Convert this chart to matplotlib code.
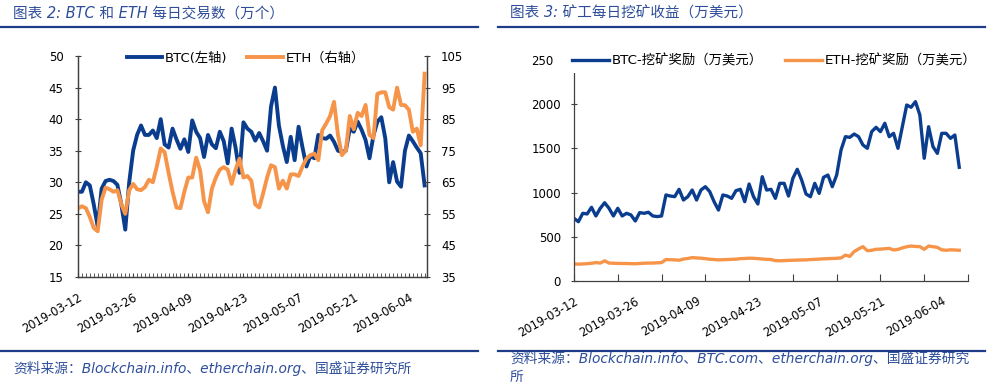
import numpy as np
import pandas as pd
import matplotlib
matplotlib.use('Agg')
import matplotlib.pyplot as plt
from matplotlib.lines import Line2D
from matplotlib.patches import Rectangle

plt.rcParams['font.family'] = ['DejaVu Sans', 'Noto Sans CJK SC']

# ---- data ----
dates = pd.date_range('2019-03-12', periods=89, freq='D')
date_labels = [d.strftime('%Y-%m-%d') for d in dates]

# daily transactions, 10k (left chart)
btc_tx = [28.5, 28.5, 30.0, 29.5, 26.5, 23.0, 29.0, 30.2, 30.4, 30.2,
          29.6, 26.5, 22.5, 30.0, 35.0, 37.5, 39.0, 37.5, 37.5, 38.2,
          37.0, 40.0, 36.0, 35.5, 38.5, 36.8, 35.3, 36.8, 34.8, 39.8,
          38.0, 37.0, 34.0, 37.5, 36.0, 35.4, 38.0, 36.5, 33.0, 38.5,
          35.5, 31.5, 39.5, 38.5, 38.0, 36.6, 37.8, 36.5, 35.0, 42.0,
          45.0, 39.0, 35.8, 33.2, 37.2, 33.5, 38.8, 35.5, 32.5, 34.2,
          33.8, 37.5, 37.0, 36.9, 37.4, 36.4, 35.0, 34.8, 35.0, 38.5,
          38.0, 39.6, 38.3, 36.7, 33.8, 37.4, 39.6, 40.3, 37.0, 30.0,
          33.2, 30.1, 29.3, 35.0, 37.4, 36.5, 35.5, 34.6, 29.5]
eth_tx = [56.7, 57.4, 56.8, 54.0, 50.5, 49.5, 59.5, 63.3, 62.8, 62.0,
          62.5, 58.0, 55.0, 62.5, 64.5, 62.8, 62.5, 63.5, 65.8, 65.0,
          70.0, 75.7, 74.5, 68.0, 62.0, 57.0, 56.8, 62.0, 66.5, 66.5,
          72.8, 68.8, 59.0, 55.5, 63.0, 66.5, 69.0, 69.8, 69.0, 64.5,
          69.0, 72.5, 66.5, 67.0, 65.5, 58.0, 57.0, 61.5, 66.5, 70.4,
          69.8, 63.0, 65.5, 63.0, 67.5, 67.5, 67.0, 70.0, 72.5, 73.6,
          74.1, 72.0, 81.5, 83.6, 86.0, 90.5, 80.0, 73.6, 75.1, 86.0,
          81.8, 87.0, 86.0, 89.5, 80.0, 79.0, 93.0, 93.5, 93.5, 88.8,
          88.0, 95.0, 89.5, 89.4, 88.0, 81.0, 82.0, 76.7, 99.4]

# daily mining reward, 10k USD (right chart)
btc_reward = [707, 669, 764, 757, 832, 734, 821, 884, 821, 734,
              821, 734, 764, 746, 677, 772, 764, 776, 734, 727,
              734, 972, 960, 953, 1036, 915, 953, 1028, 915, 1028,
              1066, 1010, 896, 801, 972, 960, 934, 1021, 1036, 896,
              1096, 953, 870, 1179, 1028, 1036, 934, 1104, 1104, 960,
              1161, 1263, 1141, 983, 952, 1104, 990, 1172, 1198, 1066,
              1198, 1482, 1633, 1625, 1663, 1633, 1539, 1501, 1690, 1739,
              1690, 1785, 1633, 1671, 1501, 1746, 1992, 1966, 2030, 1879,
              1388, 1746, 1520, 1444, 1671, 1671, 1614, 1652, 1286]
eth_reward = [190, 188, 190, 193, 198, 205, 200, 225, 200, 198,
              196, 195, 195, 193, 192, 195, 198, 200, 200, 203,
              205, 240, 238, 236, 232, 245, 252, 262, 258, 255,
              250, 243, 240, 236, 238, 240, 242, 244, 250, 252,
              255, 254, 250, 246, 242, 240, 228, 226, 228, 230,
              232, 234, 235, 236, 240, 242, 245, 248, 250, 252,
              254, 258, 290, 276, 330, 360, 386, 340, 345, 356,
              358, 362, 367, 348, 355, 372, 385, 393, 388, 386,
              356, 393, 385, 378, 350, 345, 350, 348, 345]

label_idx = list(range(0, 89, 14))
tick_labels = [date_labels[i] for i in label_idx]

BLUE = '#0B3D8F'
ORANGE = '#F6954A'
TXT_BLUE = '#2E4E9A'
RULE = '#1F3C88'
SPINE = '#404040'

W, H = 995, 390
fx = lambda px: px / W
fy = lambda py: 1 - py / H

fig = plt.figure(figsize=(W / 100, H / 100), dpi=100)
x = np.arange(len(dates))

# ===== left chart: daily transactions =====
ax1 = fig.add_axes([fx(78), fy(277), (427 - 78) / W, (277 - 56) / H])
l1, = ax1.plot(x, btc_tx, color=BLUE, lw=2.8, solid_joinstyle='round')
ax2 = ax1.twinx()
l2, = ax2.plot(x, eth_tx, color=ORANGE, lw=2.8, solid_joinstyle='round')
ax1.set_ylim(15, 50)
ax2.set_ylim(35, 105)
ax1.set_yticks(range(15, 51, 5))
ax2.set_yticks(range(35, 106, 10))
ax1.set_xlim(0, 88.6)
ax1.set_xticks(label_idx, tick_labels, rotation=30, ha='right',
               rotation_mode='anchor', fontsize=8.3)
ax1.set_xticks(x, minor=True)
ax1.tick_params(axis='x', which='both', direction='in', length=3,
                pad=10, color=SPINE)
ax1.tick_params(axis='y', direction='inout', length=5, labelsize=8.5,
                pad=8, color=SPINE)
ax2.tick_params(axis='y', direction='inout', length=5, labelsize=8.5,
                pad=7.5, color=SPINE)
for a in (ax1, ax2):
    a.spines['top'].set_visible(False)
    for s in a.spines.values():
        s.set_color(SPINE)
        s.set_linewidth(0.9)
ax2.legend([l1, l2], ['BTC(左轴)', 'ETH（右轴）'], loc='center left',
           bbox_to_anchor=(0.14, 0.99), ncol=2, frameon=False, fontsize=9.5,
           handlelength=2.7, handletextpad=0.2, columnspacing=1.5,
           borderpad=0, borderaxespad=0)

# ===== right chart: mining reward =====
ax3 = fig.add_axes([fx(574), fy(280.7), (968 - 574) / W, (280.7 - 60.2) / H])
l3, = ax3.plot(x, btc_reward, color=BLUE, lw=2.4, solid_joinstyle='round')
l4, = ax3.plot(x, eth_reward, color=ORANGE, lw=2.4, solid_joinstyle='round')
ax3.set_ylim(0, 2500)
ax3.set_yticks(range(0, 2501, 500))
ax3.set_xlim(0, 90)
ax3.xaxis.remove_overlapping_locs = False
ax3.set_xticks(range(0, 91, 10), [''] * 10)
ax3.set_xticks(label_idx, tick_labels, minor=True, rotation=30, ha='right',
               rotation_mode='anchor', fontsize=8.3)
ax3.tick_params(axis='x', which='major', direction='in', length=5, color=SPINE)
ax3.tick_params(axis='x', which='minor', length=0, pad=10)
ax3.tick_params(axis='y', direction='inout', length=5, labelsize=8.5,
                pad=7, color=SPINE)
for side in ('top', 'right'):
    ax3.spines[side].set_visible(False)
for s in ax3.spines.values():
    s.set_color(SPINE)
    s.set_linewidth(0.9)

# legend sits on a white box that hides the top of the axis (as in the source)
fig.add_artist(Rectangle((fx(553), fy(73)), (975 - 553) / W, (73 - 48) / H,
                         transform=fig.transFigure, facecolor='white',
                         edgecolor='none', zorder=2))
fig.legend([l3, l4], ['BTC-挖矿奖励（万美元）', 'ETH-挖矿奖励（万美元）'],
           loc='center left', bbox_to_anchor=(fx(572), fy(61)), ncol=2,
           frameon=False, fontsize=9.6, handlelength=2.8, handletextpad=0.15,
           columnspacing=1.7, borderpad=0, borderaxespad=0)

# ===== titles, rules, sources =====
fig.text(fx(13), fy(13), '图表 2: BTC 和 ETH 每日交易数（万个）', fontsize=10.5,
         style='italic', color=TXT_BLUE, va='center', ha='left')
fig.text(fx(510), fy(13), '图表 3: 矿工每日挖矿收益（万美元）', fontsize=10.5,
         style='italic', color=TXT_BLUE, va='center', ha='left')
for x0, x1 in ((0, 478), (498, 985)):
    for yy in (27.3, 350.5):
        fig.add_artist(Line2D([fx(x0), fx(x1)], [fy(yy), fy(yy)],
                              transform=fig.transFigure, color=RULE, lw=1.6))
fig.text(fx(13), fy(368), '资料来源：Blockchain.info、etherchain.org、国盛证券研究所',
         fontsize=9.9, style='italic', color=TXT_BLUE, va='center', ha='left')
fig.text(fx(510), fy(367.5),
         '资料来源：Blockchain.info、BTC.com、etherchain.org、国盛证券研究\n所',
         fontsize=9.9, style='italic', color=TXT_BLUE, va='center', ha='left',
         linespacing=1.3)

fig.savefig('out.png', dpi=100)
